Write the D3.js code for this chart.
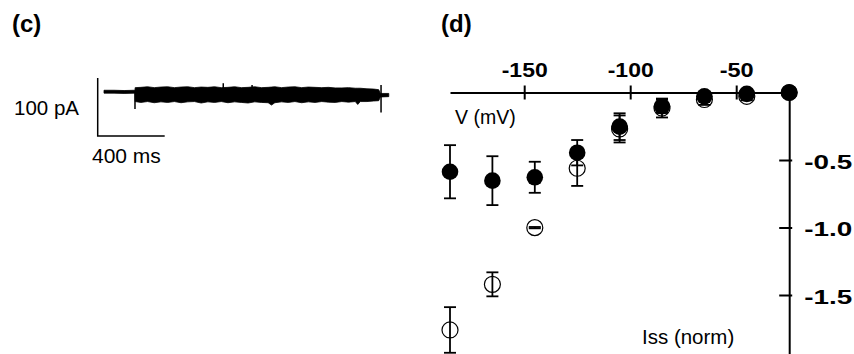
<!DOCTYPE html>
<html>
<head>
<meta charset="utf-8">
<script src="https://cdn.jsdelivr.net/npm/d3@7"></script>
<style>
  body { margin: 0; background: #fff; }
  text { font-family: "Liberation Sans", Arial, sans-serif; fill: #000; }
</style>
</head>
<body>
<svg id="fig" width="854" height="354"></svg>
<script>
// panel (c): current trace envelope (ms, pA)
const traceTime = [0, 60, 120, 180, 185, 186, 220, 260, 300, 340, 380, 420, 460, 500, 540, 580, 620, 660, 700, 740, 780, 820, 860, 900, 940, 980, 1000, 1020, 1060, 1100, 1140, 1180, 1220, 1260, 1300, 1340, 1380, 1420, 1460, 1500, 1515, 1530, 1570, 1610, 1640, 1650, 1660, 1700];
const traceHigh = [2.5, 2.5, 2.0, 2.5, 2.5, 7.0, 7.5, 8.5, 7.0, 8.0, 8.5, 7.0, 8.0, 8.5, 7.0, 8.0, 7.5, 8.5, 7.0, 7.5, 8.5, 7.0, 7.5, 8.5, 7.0, 7.5, 8.0, 8.5, 7.0, 8.0, 8.5, 7.0, 8.0, 7.5, 7.0, 7.5, 6.5, 6.5, 7.0, 6.0, 6.0, 6.0, 5.0, 4.5, 3.5, -3.0, -3.0, -3.0];
const traceLow = [-2.5, -2.5, -3.0, -2.5, -2.5, -17.0, -18.5, -17.0, -19.0, -17.5, -18.5, -17.0, -19.0, -17.5, -17.0, -19.5, -17.5, -18.5, -17.0, -19.0, -17.5, -18.5, -19.5, -17.5, -18.5, -19.0, -23.0, -19.0, -17.5, -18.5, -17.0, -19.0, -17.5, -18.5, -17.0, -18.0, -18.5, -17.0, -18.0, -17.0, -22.0, -17.0, -17.0, -16.0, -15.5, -9.0, -9.0, -8.5];
const spikeTime = [185, 712, 884, 1654];
const spikeLow = [-30, 6, 6, -36];
const spikeHigh = [2, 14.6, 11.6, 11.6];
const scaleBarMs = 400, scaleBarPa = 100;

// panel (d): steady-state current vs voltage
const voltages = [-185, -165, -145, -125, -105, -85, -65, -45, -25];
const filledMean = [-0.587, -0.653, -0.628, -0.446, -0.253, -0.102, -0.028, -0.01, 0];
const filledSem = [0.197, 0.181, 0.115, 0.094, 0.099, 0.05, 0.03, 0.03, 0.02];
const openMean = [-1.759, -1.421, -1.001, -0.561, -0.27, -0.115, -0.052, -0.028, 0];
const openSem = [0.169, 0.089, 0.005, 0.131, 0.1, 0.07, 0.04, 0.03, 0.02];
const xTicks = [-150, -100, -50];
const yTicks = [-0.5, -1.0, -1.5];

const svg = d3.select("#fig");

// ---- panel c ----
svg.append("text").attr("x", 12).attr("y", 32)
  .style("font-size", "24px").style("font-weight", "bold").text("(c)");

const tx = d3.scaleLinear().domain([0, 400]).range([104, 171]);
const ty = d3.scaleLinear().domain([0, 100]).range([91.7, 33.7]);

const trace = traceTime.map((t, i) => ({ t, hi: traceHigh[i], lo: traceLow[i] }));
svg.append("path")
  .datum(trace)
  .attr("d", d3.area().x(d => tx(d.t)).y0(d => ty(d.lo)).y1(d => ty(d.hi)))
  .attr("fill", "#000").attr("stroke", "#000").attr("stroke-width", 0.8);

svg.selectAll(".spike")
  .data(spikeTime)
  .enter().append("line")
  .attr("x1", d => tx(d)).attr("x2", d => tx(d))
  .attr("y1", (d, i) => ty(spikeLow[i])).attr("y2", (d, i) => ty(spikeHigh[i]))
  .attr("stroke", "#000").attr("stroke-width", 1.5);

// scale bar
const barT0 = -37.6, barI0 = -76.4;
svg.append("path")
  .attr("d", `M${tx(barT0)},${ty(barI0 + scaleBarPa)}V${ty(barI0)}H${tx(barT0 + scaleBarMs)}`)
  .attr("fill", "none").attr("stroke", "#000").attr("stroke-width", 1.5);
svg.append("text").attr("x", 79).attr("y", 115).attr("text-anchor", "end")
  .style("font-size", "20.5px").text(`${scaleBarPa} pA`);
svg.append("text").attr("x", 92).attr("y", 163)
  .style("font-size", "21px").text(`${scaleBarMs} ms`);

// ---- panel d ----
svg.append("text").attr("x", 441).attr("y", 32)
  .style("font-size", "24px").style("font-weight", "bold").text("(d)");

const x = d3.scaleLinear().domain([-185, -25]).range([450, 789.2]);
const y = d3.scaleLinear().domain([0, -1.94]).range([92.5, 354.4]);

const xAxis = svg.append("g")
  .attr("transform", `translate(0,${y(0)})`)
  .call(d3.axisTop(x).tickValues(xTicks).tickSizeOuter(0).tickSizeInner(7).tickFormat(d => String(d)));
xAxis.select(".domain").attr("stroke", "#000").attr("stroke-width", 2);
xAxis.selectAll(".tick line").attr("y1", 7).attr("y2", -7).attr("stroke", "#000").attr("stroke-width", 2);
xAxis.selectAll(".tick text")
  .attr("y", -16).attr("dy", 0)
  .attr("textLength", 46).attr("lengthAdjust", "spacingAndGlyphs")
  .style("font-size", "20.5px").style("font-weight", "bold")
  .style("font-family", "'Liberation Sans', Arial, sans-serif").attr("fill", "#000");
xAxis.selectAll(".tick text").filter(d => d === -50).attr("textLength", 34);

const yAxis = svg.append("g")
  .attr("transform", `translate(${x(-25)},0)`)
  .call(d3.axisRight(y).tickValues(yTicks).tickSizeOuter(0).tickFormat(d => d.toFixed(1)));
yAxis.select(".domain").attr("stroke", "#000").attr("stroke-width", 2);
yAxis.selectAll(".tick line").attr("x1", -10).attr("x2", 3).attr("stroke", "#000").attr("stroke-width", 2);
yAxis.selectAll(".tick text")
  .attr("x", 15).attr("dy", "0.4em")
  .attr("textLength", 48).attr("lengthAdjust", "spacingAndGlyphs")
  .style("font-size", "21px").style("font-weight", "bold")
  .style("font-family", "'Liberation Sans', Arial, sans-serif").attr("fill", "#000");

svg.append("text").attr("x", 455).attr("y", 124).style("font-size", "19.5px").text("V (mV)");
svg.append("text").attr("x", 642).attr("y", 344).style("font-size", "20.5px").text("Iss (norm)");

function drawErrors(means, sems, cls) {
  const g = svg.append("g").attr("class", cls);
  const pts = voltages.map((v, i) => ({ v, m: means[i], s: sems[i] }));
  g.selectAll(".stem").data(pts).enter().append("line")
    .attr("x1", d => x(d.v)).attr("x2", d => x(d.v))
    .attr("y1", d => y(d.m - d.s)).attr("y2", d => y(d.m + d.s))
    .attr("stroke", "#000").attr("stroke-width", 1.8);
  [1, -1].forEach(sign => {
    g.selectAll(".cap" + sign).data(pts).enter().append("line")
      .attr("x1", d => x(d.v) - 6).attr("x2", d => x(d.v) + 6)
      .attr("y1", d => y(d.m + sign * d.s)).attr("y2", d => y(d.m + sign * d.s))
      .attr("stroke", "#000").attr("stroke-width", 1.8);
  });
  return pts;
}

const openPts = drawErrors(openMean, openSem, "open");
svg.append("g").selectAll("circle").data(openPts).enter().append("circle")
  .attr("cx", d => x(d.v)).attr("cy", d => y(d.m)).attr("r", 8)
  .attr("fill", "none").attr("stroke", "#000").attr("stroke-width", 1.2);

const filledPts = drawErrors(filledMean, filledSem, "filled");
svg.append("g").selectAll("circle").data(filledPts).enter().append("circle")
  .attr("cx", d => x(d.v)).attr("cy", d => y(d.m)).attr("r", 8.3)
  .attr("fill", "#000");
</script>
</body>
</html>
